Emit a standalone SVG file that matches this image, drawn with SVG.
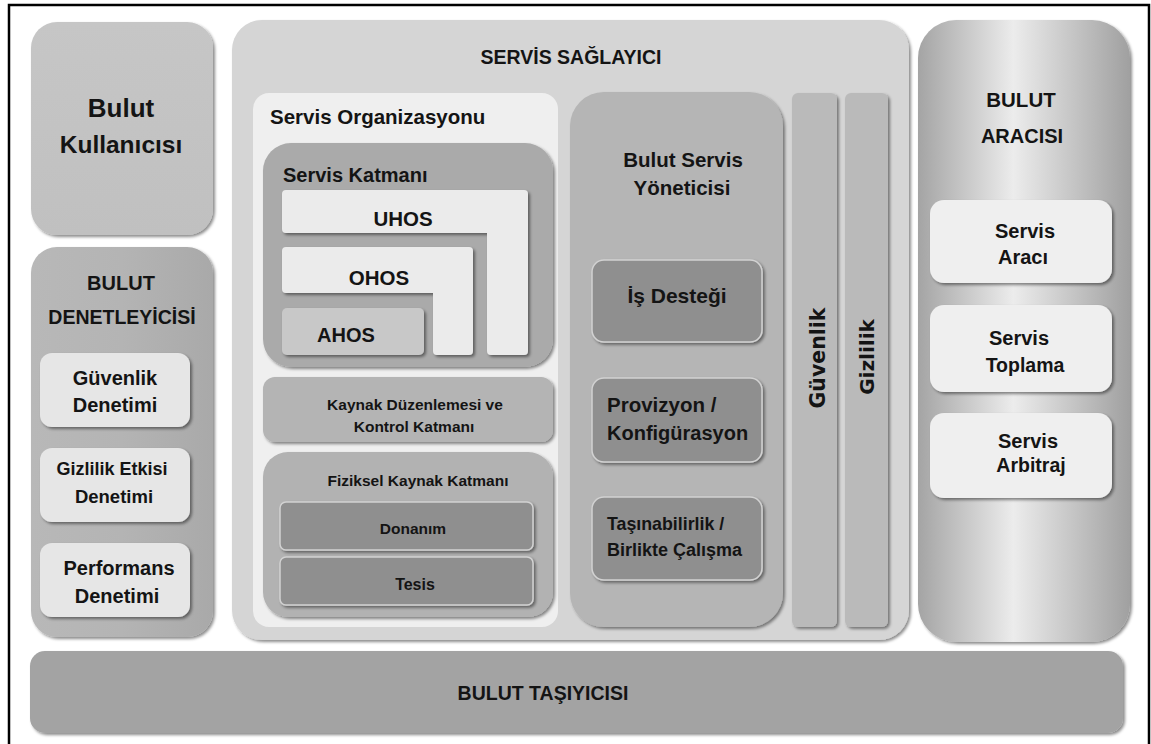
<svg xmlns="http://www.w3.org/2000/svg" width="1151" height="744" viewBox="0 0 1151 744">
<defs>
<filter id="sh" x="-10%" y="-10%" width="125%" height="125%">
<feDropShadow dx="2" dy="2" stdDeviation="1.5" flood-color="#000" flood-opacity="0.45"/>
</filter>
<linearGradient id="gAr" x1="0" y1="0" x2="1" y2="0">
<stop offset="0" stop-color="#a4a4a4"/>
<stop offset="0.45" stop-color="#ececec"/>
<stop offset="1" stop-color="#a0a0a0"/>
</linearGradient>
<linearGradient id="gDen" x1="0" y1="0" x2="1" y2="0">
<stop offset="0" stop-color="#b8b8b8"/>
<stop offset="0.5" stop-color="#b4b4b4"/>
<stop offset="1" stop-color="#a9a9a9"/>
</linearGradient>
<linearGradient id="gKul" x1="0" y1="0" x2="0" y2="1">
<stop offset="0" stop-color="#c6c6c6"/>
<stop offset="1" stop-color="#c0c0c0"/>
</linearGradient>
</defs>
<style>
text{font-family:"Liberation Sans",Arial,sans-serif;font-weight:bold;fill:#141414;text-anchor:middle}
.l{text-anchor:start}
.v{font-family:"DejaVu Sans",sans-serif}
.s{filter:url(#sh)}
.lt{fill:#ebebeb}
.dk{fill:#8f8f8f;stroke:#d2d2d2;stroke-width:1.5}
</style>
<rect width="1151" height="744" fill="#fff"/>
<path d="M9,744 V5 H1149 V744" fill="none" stroke="#000" stroke-width="2.5"/>

<g id="bulut-kullanicisi">
<rect class="s" x="31" y="22" width="182" height="213" rx="26" fill="url(#gKul)"/>
<text x="121" y="117" font-size="26" fill="#1a1a2e">Bulut</text>
<text x="121" y="153" font-size="24.5" fill="#1a1a2e">Kullanıcısı</text>
</g>

<g id="bulut-denetleyicisi">
<rect class="s" x="31" y="247" width="182" height="390" rx="26" fill="url(#gDen)"/>
<text x="121" y="290" font-size="20">BULUT</text>
<text x="122" y="324" font-size="19.5">DENETLEYİCİSİ</text>
<g id="guvenlik-denetimi">
<rect class="s" x="40" y="353" width="150" height="74" rx="12" fill="#e6e6e6"/>
<text x="115" y="385" font-size="20">Güvenlik</text>
<text x="115" y="412" font-size="20">Denetimi</text>
</g>
<g id="gizlilik-etkisi-denetimi">
<rect class="s" x="40" y="448" width="150" height="74" rx="12" fill="#e6e6e6"/>
<text x="112" y="475" font-size="18">Gizlilik Etkisi</text>
<text x="114" y="503" font-size="18.5">Denetimi</text>
</g>
<g id="performans-denetimi">
<rect class="s" x="40" y="543" width="150" height="74" rx="12" fill="#e6e6e6"/>
<text x="119" y="575" font-size="20">Performans</text>
<text x="117" y="603" font-size="20">Denetimi</text>
</g>
</g>

<g id="servis-saglayici">
<rect class="s" x="232" y="20" width="677" height="620" rx="30" fill="#d5d5d5"/>
<text x="571" y="64" font-size="19.5">SERVİS SAĞLAYICI</text>

<g id="servis-organizasyonu">
<rect x="253" y="93" width="305" height="534" rx="16" fill="#efefef"/>
<text class="l" x="270" y="124" font-size="20.5">Servis Organizasyonu</text>

<g id="servis-katmani">
<rect class="s" x="263" y="143" width="290" height="224" rx="28" fill="#aaaaaa"/>
<text class="l" x="283" y="182" font-size="20">Servis Katmanı</text>
<g id="uhos">
<path class="s lt" d="M286,190 H524 Q528,190 528,194 V351 Q528,355 524,355 H491 Q487,355 487,351 V233 H286 Q282,233 282,229 V194 Q282,190 286,190 Z"/>
<text x="403" y="226" font-size="20.5">UHOS</text>
</g>
<g id="ohos">
<path class="s lt" d="M286,247 H469 Q473,247 473,251 V351 Q473,355 469,355 H437 Q433,355 433,351 V293 H286 Q282,293 282,289 V251 Q282,247 286,247 Z"/>
<text x="379" y="285" font-size="20.5">OHOS</text>
</g>
<g id="ahos">
<rect class="s" x="282" y="308" width="142" height="47" rx="5" fill="#c8c8c8"/>
<text x="346" y="342" font-size="20">AHOS</text>
</g>
</g>

<g id="kaynak-duzenlemesi">
<rect class="s" x="263" y="377" width="290" height="65" rx="12" fill="#b4b4b4"/>
<text x="415" y="410" font-size="15.5">Kaynak Düzenlemesi ve</text>
<text x="414" y="432" font-size="15.5">Kontrol Katmanı</text>
</g>

<g id="fiziksel-kaynak-katmani">
<rect class="s" x="263" y="452" width="290" height="165" rx="25" fill="#b2b2b2"/>
<text x="418" y="486" font-size="15.5">Fiziksel Kaynak Katmanı</text>
<g id="donanim">
<rect class="s dk" x="280" y="502" width="253" height="48" rx="6" fill="#9a9a9a"/>
<text x="413" y="534" font-size="15.5">Donanım</text>
</g>
<g id="tesis">
<rect class="s dk" x="280" y="557" width="253" height="48" rx="6" fill="#9a9a9a"/>
<text x="415" y="590" font-size="16">Tesis</text>
</g>
</g>
</g>

<g id="bulut-servis-yoneticisi">
<rect class="s" x="570" y="92" width="213" height="535" rx="34" fill="#b5b5b5"/>
<text x="683" y="167" font-size="20.5">Bulut Servis</text>
<text x="682" y="195" font-size="20.5">Yöneticisi</text>
<g id="is-destegi">
<rect class="s dk" x="592" y="260" width="170" height="82" rx="12"/>
<text x="677" y="303" font-size="21">İş Desteği</text>
</g>
<g id="provizyon">
<rect class="s dk" x="592" y="378" width="170" height="84" rx="12"/>
<text class="l" x="607" y="412" font-size="20.5">Provizyon /</text>
<text class="l" x="607" y="440" font-size="20">Konfigürasyon</text>
</g>
<g id="tasinabilirlik">
<rect class="s dk" x="592" y="497" width="170" height="83" rx="12"/>
<text class="l" x="607" y="530" font-size="17.8">Taşınabilirlik /</text>
<text class="l" x="607" y="556" font-size="18">Birlikte Çalışma</text>
</g>
</g>

<g id="guvenlik">
<rect class="s" x="792" y="93" width="45" height="534" rx="6" fill="#bababa"/>
<text class="v" transform="translate(825,358) rotate(-90)" font-size="20.5">Güvenlik</text>
</g>
<g id="gizlilik">
<rect class="s" x="845" y="93" width="43" height="534" rx="6" fill="#bababa"/>
<text class="v" transform="translate(874,357) rotate(-90)" font-size="20">Gizlilik</text>
</g>
</g>

<g id="bulut-aracisi">
<rect class="s" x="918" y="20" width="212" height="622" rx="38" fill="url(#gAr)"/>
<text x="1021" y="107" font-size="20.5">BULUT</text>
<text x="1022" y="143" font-size="20">ARACISI</text>
<g id="servis-araci">
<rect class="s" x="930" y="200" width="182" height="83" rx="14" fill="#efefef"/>
<text x="1025" y="238" font-size="20">Servis</text>
<text x="1023" y="264" font-size="20">Aracı</text>
</g>
<g id="servis-toplama">
<rect class="s" x="930" y="305" width="182" height="87" rx="14" fill="#efefef"/>
<text x="1019" y="345" font-size="20">Servis</text>
<text x="1025" y="372" font-size="19.5">Toplama</text>
</g>
<g id="servis-arbitraj">
<rect class="s" x="930" y="413" width="182" height="85" rx="14" fill="#efefef"/>
<text x="1028" y="448" font-size="20">Servis</text>
<text x="1031" y="472" font-size="19.5">Arbitraj</text>
</g>
</g>

<g id="bulut-tasiyicisi">
<rect class="s" x="30" y="651" width="1093" height="82" rx="15" fill="#a3a3a3"/>
<text x="543" y="700" font-size="19.5">BULUT TAŞIYICISI</text>
</g>

<g id="connectors"/>
</svg>
